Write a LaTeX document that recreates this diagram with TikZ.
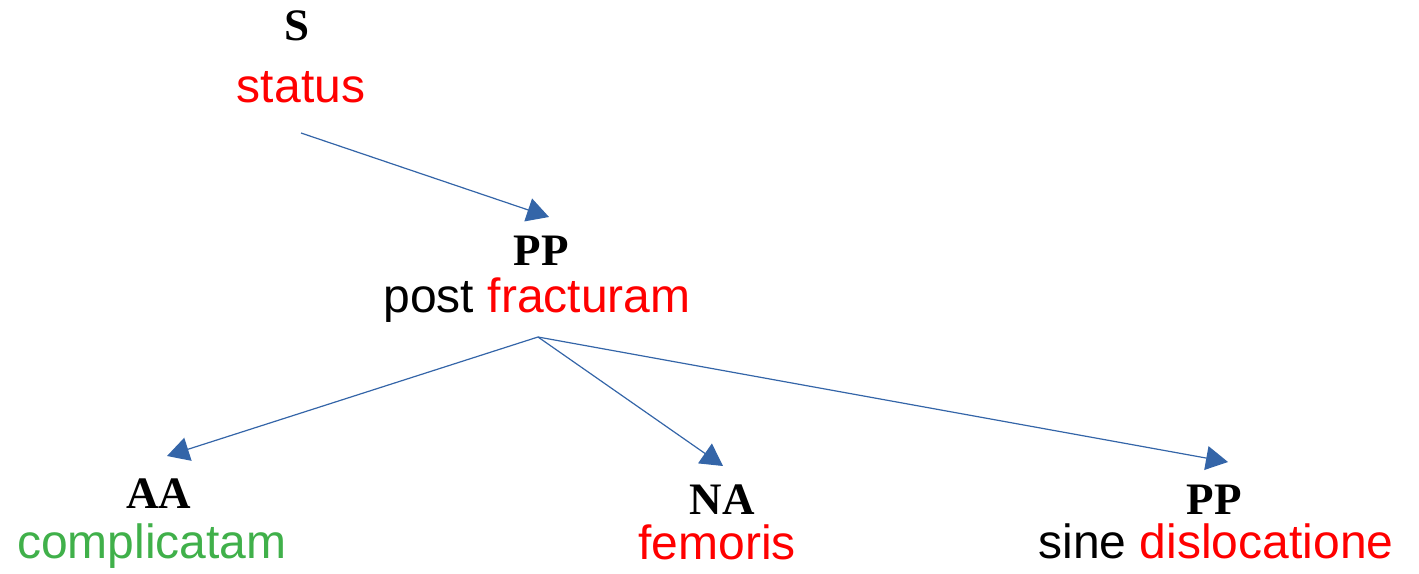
\documentclass[tikz,border=0pt]{standalone}
\usepackage{fontspec}
\setmainfont{Liberation Sans}
\newfontfamily\tagserif{Liberation Serif}
\usepackage{tikz}
\usetikzlibrary{arrows.meta}
\definecolor{linkblue}{HTML}{3465A8}
\definecolor{nounred}{HTML}{FF0000}
\definecolor{adjgreen}{HTML}{40B04A}

\begin{document}
\begin{tikzpicture}[
  x=0.5pt, y=-0.5pt,
  tag/.style={font=\tagserif\bfseries\fontsize{22.5}{24}\selectfont, inner sep=0pt, anchor=base},
  word/.style={font=\fontsize{24}{26}\selectfont, inner sep=0pt, anchor=base},
  link/.style={-{Triangle[length=11pt, width=12pt]}, draw=linkblue, line width=0.6pt}
]
  \useasboundingbox (0,0) rectangle (1419,573);

  % root
  \node[tag] (s) at (297,40) {S};
  \node[word, text=nounred] (status) at (301,102) {status};

  % prepositional phrase
  \node[tag] (pp1) at (541,265) {PP};
  \node[word] (post) at (537,312) {post \textcolor{nounred}{fracturam}};

  % dependents
  \node[tag] (aa) at (159,508) {AA};
  \node[word, text=adjgreen] (compl) at (152,558) {complicatam};
  \node[tag] (na) at (722,514) {NA};
  \node[word, text=nounred] (femoris) at (717,559) {femoris};
  \node[tag] (pp2) at (1214,514) {PP};
  \node[word] (sine) at (1216,558) {sine \textcolor{nounred}{dislocatione}};

  % free ends of the links
  \coordinate (statusout) at (301,133);
  \coordinate (pp1in) at (549,217);
  \coordinate (fork) at (538,337);
  \coordinate (aain) at (167,456);
  \coordinate (nain) at (723,466);
  \coordinate (pp2in) at (1228,462);

  \draw[link] (statusout) -- (pp1in);
  \draw[link] (fork) -- (aain);
  \draw[link] (fork) -- (nain);
  \draw[link] (fork) -- (pp2in);
\end{tikzpicture}
\end{document}
